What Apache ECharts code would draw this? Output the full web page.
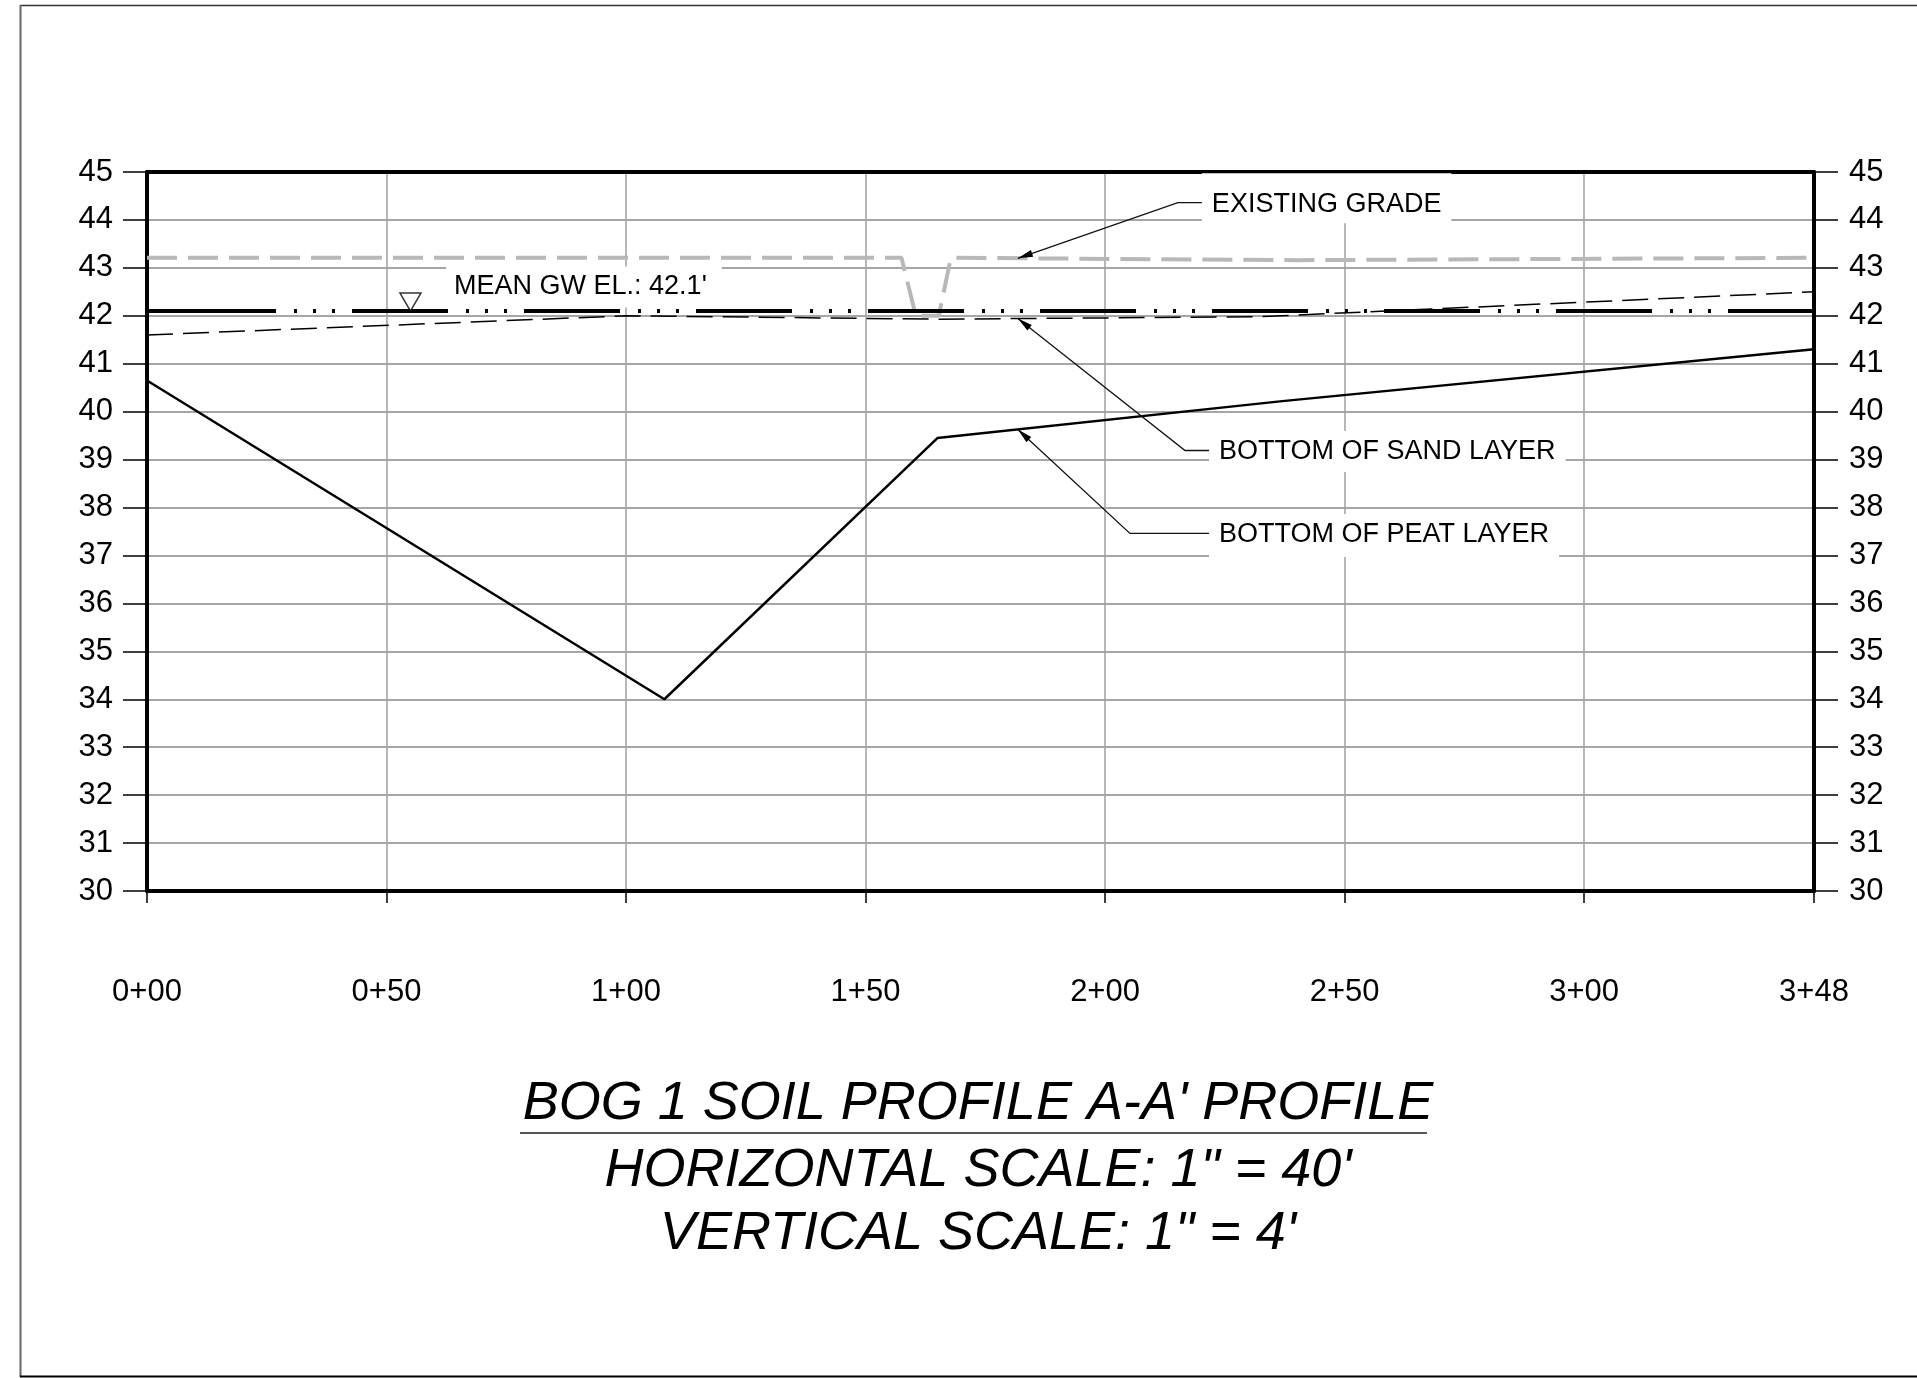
<!DOCTYPE html>
<html>
<head>
<meta charset="utf-8">
<title>BOG 1 Soil Profile A-A'</title>
<script src="https://cdn.jsdelivr.net/npm/echarts@6.0.0/dist/echarts.min.js"></script>
<style>
  html, body { margin: 0; padding: 0; background: #fff; }
  #chart { width: 1917px; height: 1378px; }
</style>
</head>
<body>
<div id="chart"></div>
<script>
// station (ft) / elevation (ft) pairs
const gradeStation = [0, 157.5, 160.5, 165.3, 167.8, 240, 348];
const gradeElev = [43.21, 43.21, 42.0, 42.0, 43.21, 43.16, 43.21];

const sandStation = [0, 100, 165, 232, 348];
const sandElev = [41.6, 42.0, 41.93, 41.98, 42.5];

const peatStation = [0, 108, 165, 237, 348];
const peatElev = [40.65, 34.0, 39.45, 40.22, 41.3];

const gwStation = [0, 348];
const gwElev = [42.1, 42.1];
const gwSymbolStation = [55];

const stationTicks = [0, 50, 100, 150, 200, 250, 300, 348];
const stationLabels = ['0+00', '0+50', '1+00', '1+50', '2+00', '2+50', '3+00', '3+48'];

const FONT = '"Liberation Sans", Arial, sans-serif';

const pairs = (xs, ys) => xs.map((x, i) => [x, ys[i]]);

// linear read-off along a polyline, used to put arrow tips on the lines
const interp = (xs, ys, x) => {
    for (let i = 1; i < xs.length; i++) {
        if (x <= xs[i]) {
            const t = (x - xs[i - 1]) / (xs[i] - xs[i - 1]);
            return ys[i - 1] + t * (ys[i] - ys[i - 1]);
        }
    }
    return ys[ys.length - 1];
};

const chart = echarts.init(document.getElementById('chart'));

const yAxisBase = {
    type: 'value',
    min: 30,
    max: 45,
    interval: 1,
    axisLine: { show: true, onZero: false, lineStyle: { color: '#000', width: 4 } },
    axisTick: { show: true, length: 24, lineStyle: { color: '#000', width: 1.5 } },
    axisLabel: { margin: 34, fontSize: 31, color: '#000', fontFamily: FONT }
};

chart.setOption({
    animation: false,
    backgroundColor: '#fff',
    grid: { left: 147, top: 172, width: 1667, height: 719, outerBoundsMode: 'none' },
    xAxis: [
        {
            type: 'value',
            min: 0,
            max: 348,
            interval: 50,
            position: 'bottom',
            axisLine: { show: true, onZero: false, lineStyle: { color: '#000', width: 4 } },
            axisTick: { show: true, length: 12, lineStyle: { color: '#000', width: 1.5 } },
            axisLabel: {
                margin: 86,
                fontSize: 31,
                color: '#000',
                fontFamily: FONT,
                showMinLabel: true,
                showMaxLabel: true,
                formatter: v => stationLabels[stationTicks.indexOf(v)] || ''
            },
            splitLine: {
                show: true,
                showMinLine: false,
                showMaxLine: false,
                lineStyle: { color: '#a6a6a6', width: 1.6 }
            }
        },
        {
            type: 'value',
            min: 0,
            max: 348,
            position: 'top',
            axisLine: { show: true, onZero: false, lineStyle: { color: '#000', width: 4 } },
            axisTick: { show: false },
            axisLabel: { show: false },
            splitLine: { show: false }
        }
    ],
    yAxis: [
        {
            ...yAxisBase,
            position: 'left',
            splitLine: {
                show: true,
                showMinLine: false,
                showMaxLine: false,
                lineStyle: { color: '#a6a6a6', width: 2 }
            }
        },
        {
            ...yAxisBase,
            position: 'right',
            axisLabel: { ...yAxisBase.axisLabel, margin: 35 },
            splitLine: { show: false }
        }
    ],
    series: [
        {
            name: 'EXISTING GRADE',
            type: 'line',
            data: pairs(gradeStation, gradeElev),
            symbol: 'none',
            z: 3,
            lineStyle: { color: '#b8b8b8', width: 4, type: [30, 11] }
        },
        {
            name: 'BOTTOM OF SAND LAYER',
            type: 'line',
            data: pairs(sandStation, sandElev),
            symbol: 'none',
            z: 3,
            lineStyle: { color: '#000', width: 1.5, type: [26, 10] }
        },
        {
            name: 'BOTTOM OF PEAT LAYER',
            type: 'line',
            data: pairs(peatStation, peatElev),
            symbol: 'none',
            z: 3,
            lineStyle: { color: '#000', width: 2.5 }
        },
        {
            name: 'MEAN GW EL.',
            type: 'line',
            data: pairs(gwStation, gwElev),
            symbol: 'none',
            z: 4,
            // long dash + three dots, the CAD "dash-dot-dot" linetype
            lineStyle: { color: '#000', width: 4, type: [96, 18, 3, 16, 3, 16, 3, 17], dashOffset: 139 },
            markLine: {
                silent: true,
                symbol: ['none', 'none'],
                label: { show: false },
                lineStyle: { color: '#000', width: 4, type: 'solid' },
                data: [[{ coord: [0, 42.1] }, { coord: [7, 42.1] }]]
            }
        },
        {
            name: 'GW marker',
            type: 'scatter',
            data: pairs(gwSymbolStation, [gwElev[0]]),
            symbol: 'path://M0,0L20,0L10,18Z',
            symbolSize: [21, 18],
            symbolOffset: [0, -9],
            z: 5,
            itemStyle: { color: '#fff', borderColor: '#000', borderWidth: 1.5 }
        }
    ]
});

// ---- callouts, placed in data units then converted ----
const toPx = pt => chart.convertToPixel({ xAxisIndex: 0, yAxisIndex: 0 }, pt);
const ctx = document.createElement('canvas').getContext('2d');
const labelFont = '27px ' + FONT;
ctx.font = labelFont;

const tipStation = 181.8;
const callouts = [
    { text: 'EXISTING GRADE', tip: [tipStation, interp(gradeStation, gradeElev, tipStation)], elbow: [215.2, 44.36], textAt: 222.3, pad: [31, 10, 19, 10] },
    { text: 'BOTTOM OF SAND LAYER', tip: [tipStation, interp(sandStation, sandElev, tipStation)], elbow: [216.7, 39.19], textAt: 223.8, pad: [21, 10, 20, 10] },
    { text: 'BOTTOM OF PEAT LAYER', tip: [tipStation, interp(peatStation, peatElev, tipStation)], elbow: [205.2, 37.46], textAt: 223.8, pad: [21, 10, 22, 10] }
];

const graphics = [];

const addLabel = (text, x, cy, pad) => {
    const w = ctx.measureText(text).width;
    graphics.push({
        type: 'rect', z: 1, silent: true,
        shape: { x: x - pad[3], y: cy - pad[0], width: w + pad[1] + pad[3], height: pad[0] + pad[2] },
        style: { fill: '#fff' }
    });
    graphics.push({
        type: 'text', z: 10, silent: true,
        style: { text, x, y: cy, font: labelFont, fill: '#000', textAlign: 'left', textVerticalAlign: 'middle' }
    });
};

const addArrow = (from, tip) => {
    const dx = tip[0] - from[0], dy = tip[1] - from[1];
    const len = Math.hypot(dx, dy);
    const ux = dx / len, uy = dy / len;
    const L = 15, W = 3.5;
    const bx = tip[0] - ux * L, by = tip[1] - uy * L;
    graphics.push({
        type: 'polygon', z: 10, silent: true,
        shape: { points: [tip, [bx - uy * W, by + ux * W], [bx + uy * W, by - ux * W]] },
        style: { fill: '#000' }
    });
};

callouts.forEach(c => {
    const tip = toPx(c.tip);
    const elbow = toPx(c.elbow);
    const textX = toPx([c.textAt, c.elbow[1]])[0];
    const cy = elbow[1] + 1.5;
    graphics.push({
        type: 'polyline', z: 10, silent: true,
        shape: { points: [tip, elbow, [textX - 10, elbow[1]]] },
        style: { stroke: '#111', lineWidth: 1.3, fill: null }
    });
    addArrow(elbow, tip);
    addLabel(c.text, textX, cy, c.pad);
});

// groundwater label
const gwText = toPx([64.1, 42.61]);
addLabel("MEAN GW EL.: 42.1'", gwText[0], gwText[1], [20, 15, 21, 8]);

// title block
const titleFont = 'italic 54px ' + FONT;
const titleLines = [
    ["BOG 1 SOIL PROFILE A-A' PROFILE", 1104],
    ['HORIZONTAL SCALE: 1" = 40\'', 1171],
    ['VERTICAL SCALE: 1" = 4\'', 1234]
];
titleLines.forEach(([text, y]) => {
    graphics.push({
        type: 'text', z: 10, silent: true,
        style: { text, x: 978, y, font: titleFont, fill: '#000', textAlign: 'center', textVerticalAlign: 'middle' }
    });
});
graphics.push({
    type: 'line', z: 10, silent: true,
    shape: { x1: 520, y1: 1133, x2: 1427, y2: 1133 },
    style: { stroke: '#555', lineWidth: 2 }
});

// sheet border (right edge runs off the page)
graphics.push(
    { type: 'line', z: 10, silent: true, shape: { x1: 20, y1: 5.5, x2: 1917, y2: 5.5 }, style: { stroke: '#333', lineWidth: 1.5 } },
    { type: 'line', z: 10, silent: true, shape: { x1: 20.5, y1: 5, x2: 20.5, y2: 1377 }, style: { stroke: '#666', lineWidth: 2 } },
    { type: 'line', z: 10, silent: true, shape: { x1: 20, y1: 1376.5, x2: 1917, y2: 1376.5 }, style: { stroke: '#000', lineWidth: 2 } }
);

chart.setOption({ graphic: { elements: graphics } });
</script>
</body>
</html>
